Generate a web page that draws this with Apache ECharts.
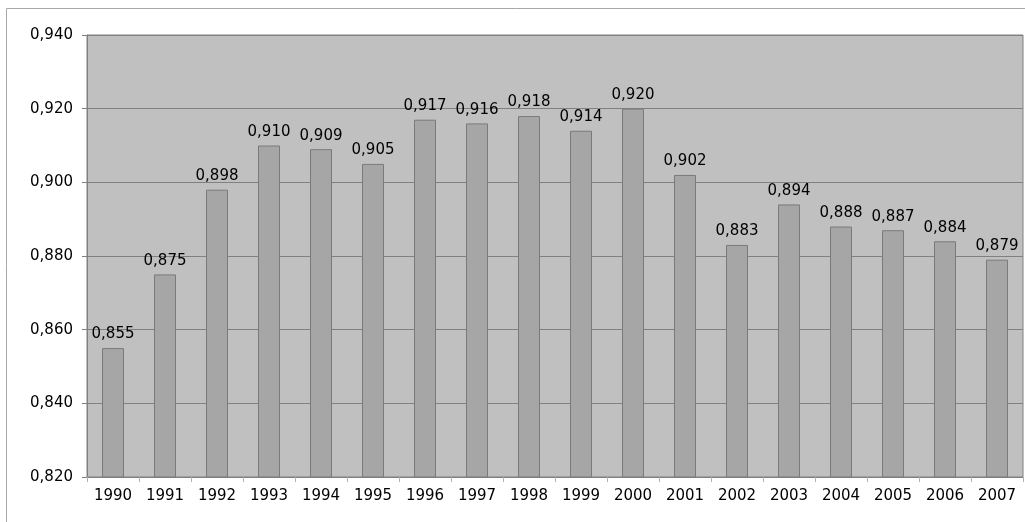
<!DOCTYPE html>
<html>
<head>
<meta charset="utf-8">
<script src="https://cdn.jsdelivr.net/npm/echarts@6/dist/echarts.min.js"></script>
<style>
  html, body { margin: 0; padding: 0; background: #ffffff; }
  #chart { width: 1025px; height: 522px; }
</style>
</head>
<body>
<div id="chart"></div>
<script>
// Yearly index values, 1990–2007
const years = ['1990', '1991', '1992', '1993', '1994', '1995', '1996', '1997', '1998',
               '1999', '2000', '2001', '2002', '2003', '2004', '2005', '2006', '2007'];
const values = [0.855, 0.875, 0.898, 0.910, 0.909, 0.905, 0.917, 0.916, 0.918,
                0.914, 0.920, 0.902, 0.883, 0.894, 0.888, 0.887, 0.884, 0.879];
const yMin = 0.82, yMax = 0.94, yStep = 0.02;

const fmt = v => v.toFixed(3).replace('.', ',');
const font = '"DejaVu Sans", sans-serif';

const chart = echarts.init(document.getElementById('chart'));
chart.setOption({
  animation: false,
  graphic: [{
    type: 'rect',
    shape: { x: 6.5, y: 8.5, width: 1040, height: 540 },
    style: { fill: 'none', stroke: '#a8a8a8', lineWidth: 1 },
    silent: true
  }],
  grid: {
    left: 87, top: 35, right: 2, bottom: 45,
    show: true, backgroundColor: '#c0c0c0', borderColor: '#808080', borderWidth: 1
  },
  xAxis: {
    type: 'category',
    data: years,
    boundaryGap: true,
    axisLine: { show: true, lineStyle: { color: '#808080' } },
    axisTick: { show: true, alignWithLabel: false, length: 5, lineStyle: { color: '#b0b0b0' } },
    axisLabel: { color: '#000', fontFamily: font, fontSize: 15, margin: 12 }
  },
  yAxis: {
    type: 'value',
    min: yMin, max: yMax, interval: yStep,
    axisLine: { show: true, lineStyle: { color: '#808080' } },
    axisTick: { show: true, length: 5, lineStyle: { color: '#808080' } },
    splitLine: { show: true, lineStyle: { color: '#808080', width: 1 } },
    axisLabel: { color: '#000', fontFamily: font, fontSize: 15, margin: 14, formatter: fmt }
  },
  series: [{
    type: 'bar',
    data: values,
    barWidth: 22,
    itemStyle: { color: '#a6a6a6', borderColor: '#7a7a7a', borderWidth: 1 },
    label: {
      show: true, position: 'top', distance: 6,
      color: '#000', fontFamily: font, fontSize: 15,
      formatter: p => fmt(p.value)
    }
  }]
});
</script>
</body>
</html>
